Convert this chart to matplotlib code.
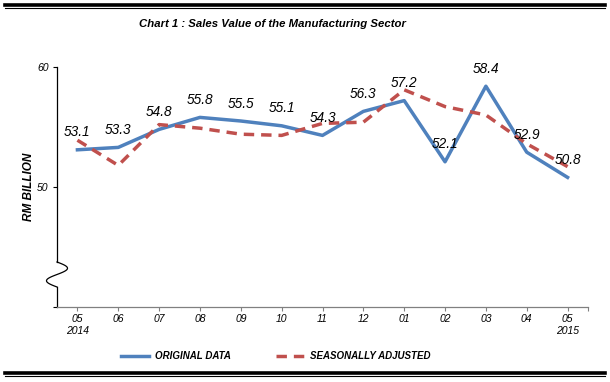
import numpy as np
import matplotlib
matplotlib.use('Agg')
import matplotlib.pyplot as plt
from matplotlib.lines import Line2D
from matplotlib import font_manager

plt.rcParams['font.family'] = ['Liberation Sans', 'DejaVu Sans']

months = ['05\n2014', '06', '07', '08', '09', '10', '11', '12', '01', '02', '03', '04', '05\n2015']
original = [53.1, 53.3, 54.8, 55.8, 55.5, 55.1, 54.3, 56.3, 57.2, 52.1, 58.4, 52.9, 50.8]
seasonal = [53.9, 51.8, 55.2, 54.9, 54.4, 54.3, 55.3, 55.4, 58.1, 56.7, 56.0, 53.6, 51.7]

blue = '#4F81BD'
red = '#C0504D'

# condensed face for the title if one is there
names = {f.name for f in font_manager.fontManager.ttflist}
if 'Liberation Sans Narrow' in names:
    title_font = dict(family=['Liberation Sans Narrow'], fontsize=10)
elif 'DejaVu Sans Condensed' in names:
    title_font = dict(family=['DejaVu Sans Condensed'], fontsize=9)
else:
    title_font = dict(family=['Liberation Sans'], fontsize=8.2)

fig = plt.figure(figsize=(6.1, 3.82), dpi=100)
ax = fig.add_axes([57/610, 1 - 307/382, (588 - 57)/610, (307 - 67)/382])

x = np.arange(len(months))
ax.plot(x, original, color=blue, lw=2.5, label='ORIGINAL DATA')
ax.plot(x, seasonal, color=red, lw=2.5, ls=(0, (3.0, 2.0)), label='SEASONALLY ADJUSTED')

for xi, v in zip(x, original):
    ax.annotate(f'{v:.1f}', (xi, v), xytext=(0, 12.5), textcoords='offset points',
                ha='center', va='center', fontsize=9.8, style='italic')

ax.set_xlim(-0.5, 12.5)
ax.set_ylim(40, 60)
ax.set_yticks([40, 50, 60])
ax.set_yticklabels(['', '50', '60'])
ax.set_xticks(list(x) + [12.5])
ax.set_xticklabels(months + [''])
ax.tick_params(axis='y', length=3, width=0.8, labelsize=7.5, pad=3, colors='black')
ax.tick_params(axis='x', length=3, width=0.8, labelsize=7.5, pad=2, color='#808080')
for lab in ax.get_xticklabels() + ax.get_yticklabels():
    lab.set_fontstyle('italic')

for s in ['top', 'right', 'left']:
    ax.spines[s].set_visible(False)
ax.spines['bottom'].set_color('#808080')
ax.spines['bottom'].set_linewidth(0.9)

# y axis with break squiggle
tr = ax.transAxes
h = 240.0
yb0 = (307 - 287) / h
yb1 = (307 - 262) / h
ax.add_line(Line2D([0, 0], [0, yb0], color='black', lw=0.9, transform=tr, clip_on=False))
ax.add_line(Line2D([0, 0], [yb1, 1], color='black', lw=0.9, transform=tr, clip_on=False))
t = np.linspace(0, 1, 60)
sq_x = np.sin(t * 2 * np.pi) * (10.5 / 531)
sq_y = yb1 - t * (yb1 - yb0)
ax.add_line(Line2D(sq_x, sq_y, color='black', lw=0.9, transform=tr, clip_on=False))

ax.set_ylabel('RM BILLION', fontsize=8.5, fontweight='bold', style='italic', labelpad=1.5)

fig.text(272/610, 1 - 24/382, 'Chart 1 : Sales Value of the Manufacturing Sector',
         ha='center', va='center', fontweight='bold', style='italic', **title_font)

# border lines
fig.add_artist(Line2D([5/610, 605/610], [1 - 5/382, 1 - 5/382], color='black', lw=2.6))
fig.add_artist(Line2D([5/610, 605/610], [1 - 8.3/382, 1 - 8.3/382], color='black', lw=0.8))
fig.add_artist(Line2D([5/610, 605/610], [1 - 372.5/382, 1 - 372.5/382], color='black', lw=2.6))
fig.add_artist(Line2D([5/610, 605/610], [1 - 376/382, 1 - 376/382], color='black', lw=0.8))

leg = fig.legend(loc='center', bbox_to_anchor=(0.452, 1 - 356/382), ncol=2, frameon=False,
                 handlelength=2.9, columnspacing=4.6, handletextpad=0.6,
                 prop={'size': 7, 'weight': 'bold', 'style': 'italic'})

fig.savefig('out.png', dpi=100)
